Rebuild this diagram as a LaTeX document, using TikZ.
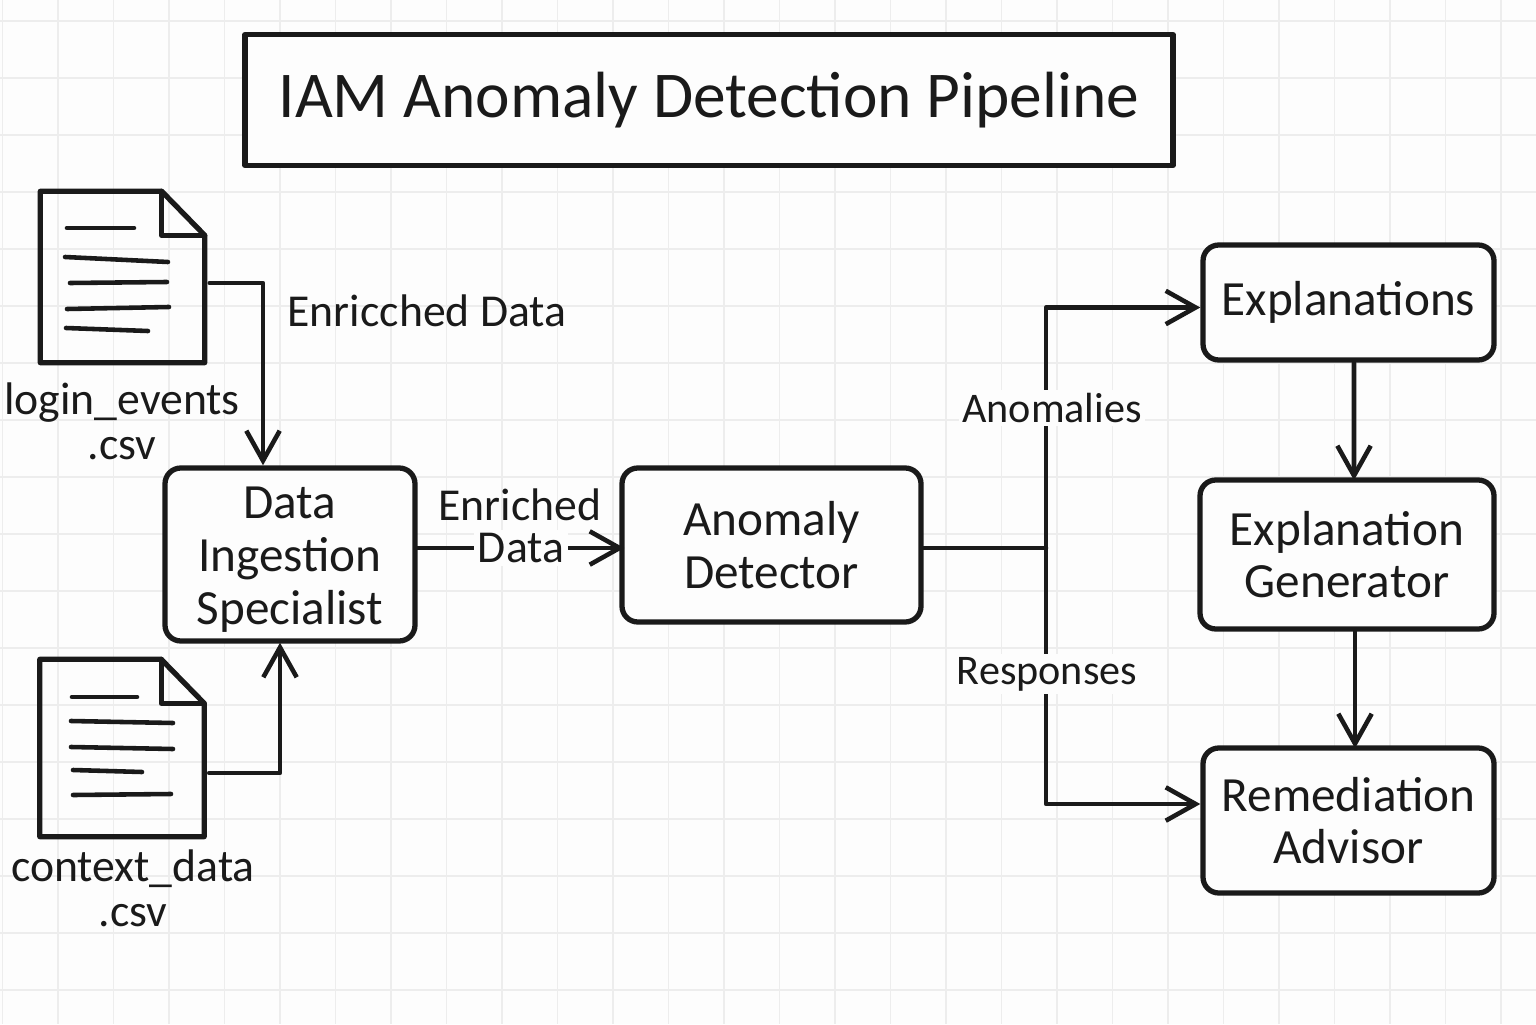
\documentclass[tikz,border=0pt]{standalone}
\usepackage{xcolor}
\usepackage{fontspec}
\setmainfont{Carlito}
\usetikzlibrary{arrows.meta}
\definecolor{ink}{HTML}{1A1A1A}
\definecolor{paper}{HTML}{FDFDFD}
\definecolor{gridline}{HTML}{EDEDED}
\newcommand{\boxlines}[1]{\raisebox{-1.8pt}[\height][\depth]{\begin{tabular}{@{}c@{}}#1\end{tabular}}}
\tikzset{
    >={Straight Barb[length=8.5pt, width=9.5pt, line width=1.3pt]},
    every path/.style={line join=round},
    line/.style={draw=ink, line width=1.3pt, line cap=round},
    arrowline/.style={line, ->, shorten >=-1.4pt},
    box/.style={rectangle, draw=ink, line width=1.5pt, rounded corners=4.5pt, fill=paper, inner sep=0pt, text=ink, font=\fontsize{14}{15}\selectfont},
    doc/.style={rectangle, inner sep=0pt, minimum width=1.63cm},
    label/.style={text=ink, inner sep=1pt, font=\fontsize{13}{13}\selectfont},
    smalllabel/.style={label, fill=paper, font=\fontsize{12}{12}\selectfont},
}
\begin{document}
\begin{tikzpicture}
    \useasboundingbox (0, 0) rectangle (15.36, 10.24);
    \fill[paper] (0, 0) rectangle (15.36, 10.24);
    \foreach \x in {0,...,27}
        \draw[gridline, line width=0.4pt] ({0.025 + 0.555*\x}, 0) -- ({0.025 + 0.555*\x}, 10.24);
    \foreach \y in {0,...,17}
        \draw[gridline, line width=0.4pt] (0, {0.34 + 0.57*\y}) -- (15.36, {0.34 + 0.57*\y});

    \node (title) at (7.09, 9.24) [rectangle, draw=ink, line width=1.5pt, fill=paper, minimum width=9.28cm, minimum height=1.31cm, text=ink, font=\fontsize{18.6}{18.6}\selectfont] {IAM Anomaly Detection Pipeline};

    \node (login) at (1.225, 7.47) [doc, minimum height=1.70cm] {};
    \node (context) at (1.22, 2.76) [doc, minimum height=1.76cm] {};
    \foreach \d in {login, context} {
        \draw[line, line width=1.5pt] (\d.north west) -- ([xshift=-0.43cm]\d.north east) -- ([yshift=-0.44cm]\d.north east) -- (\d.south east) -- (\d.south west) -- cycle;
        \draw[line, line width=1.5pt] ([xshift=-0.43cm]\d.north east) -- ++(0, -0.44) -- ++(0.43, 0);
    }
    \foreach \a/\b/\c/\e in {0.67/7.96/1.34/7.96, 0.65/7.67/1.68/7.62, 0.70/7.41/1.67/7.42, 0.67/7.15/1.69/7.17, 0.66/6.96/1.48/6.93,
                             0.72/3.27/1.37/3.27, 0.71/3.03/1.73/3.01, 0.71/2.77/1.73/2.75, 0.73/2.54/1.42/2.52, 0.73/2.29/1.71/2.30}
        \draw[line] (\a, \b) -- (\c, \e);

    \node (loginlabel) at (1.22, 5.96) [label] {\begin{tabular}{c}
            login\_events
            \\
            .csv
        \end{tabular}};
    \node (contextlabel) at (1.33, 1.29) [label] {\begin{tabular}{c}
            context\_data
            \\
            .csv
        \end{tabular}};

    \node (ingest) at (2.90, 4.695) [box, minimum width=2.50cm, minimum height=1.73cm] {
        \boxlines{
            Data
            \\
            Ingestion
            \\
            Specialist
        }
    };

    \node (detect) at (7.715, 4.79) [box, minimum width=2.99cm, minimum height=1.54cm] {
        \boxlines{
            Anomaly
            \\
            Detector
        }
    };

    \node (expl) at (13.485, 7.215) [box, minimum width=2.91cm, minimum height=1.15cm] {Explanations};

    \node (gen) at (13.47, 4.695) [box, minimum width=2.94cm, minimum height=1.49cm] {
        \boxlines{
            Explanation
            \\
            Generator
        }
    };

    \node (remed) at (13.485, 2.035) [box, minimum width=2.91cm, minimum height=1.45cm] {
        \boxlines{
            Remediation
            \\
            Advisor
        }
    };

    \coordinate (split) at (10.46, 4.76);

    \draw[arrowline] ([shift={(0.05, -0.06)}]login.east) -| ([xshift=-0.27cm, yshift=0.05cm]ingest.north);
    \draw[arrowline] ([shift={(0.05, -0.25)}]context.east) -| ([xshift=-0.10cm, yshift=-0.04cm]ingest.south);
    \draw[arrowline] (ingest.east |- split) -- (detect.west |- split);
    \draw[line] (detect.east |- split) -- (split);
    \draw[arrowline] (split) |- ([yshift=-0.05cm, xshift=-0.05cm]expl.west);
    \draw[arrowline] (split) |- ([xshift=-0.05cm, yshift=0.165cm]remed.west);
    \draw[arrowline] ([xshift=0.055cm]expl.south) -- ([xshift=0.07cm, yshift=0.02cm]gen.north);
    \draw[arrowline] ([xshift=0.08cm]gen.south) -- ([xshift=0.065cm, yshift=0.02cm]remed.north);

    \node (toplabel) at (4.27, 7.13) [label] {Enricched Data};
    \node (enriched) at (5.20, 5.19) [label] {Enriched};
    \node (enricheddata) at (5.21, 4.76) [label, fill=paper] {Data};
    \node (anomalies) at (10.52, 6.16) [smalllabel] {Anomalies};
    \node (responses) at (10.47, 3.50) [smalllabel] {Responses};
\end{tikzpicture}
\end{document}
